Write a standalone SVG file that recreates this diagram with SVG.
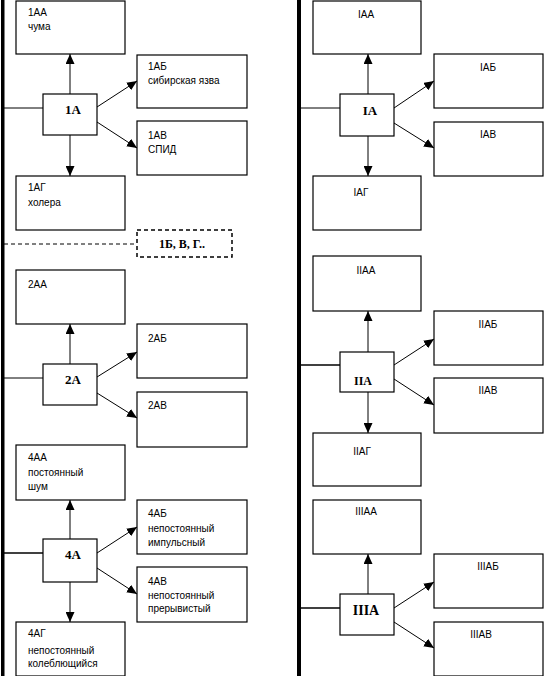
<svg xmlns="http://www.w3.org/2000/svg" width="544" height="676" viewBox="0 0 544 676">
<defs>
<marker id="ah" markerUnits="userSpaceOnUse" markerWidth="10" markerHeight="9" refX="10" refY="4.5" orient="auto">
<path d="M0,0 L10,4.5 L0,9 z" fill="#000"/>
</marker>
<style>
.box{fill:#fff;stroke:#000;stroke-width:1.2}
.t{font-family:"Liberation Sans",Arial,sans-serif;font-size:10px;fill:#000}
.c{text-anchor:middle}
.n{font-family:"Liberation Serif","Times New Roman",serif;font-weight:bold;font-size:13px;text-anchor:middle;fill:#000}
.ln{stroke:#000;stroke-width:1;fill:none}
.ar{stroke:#000;stroke-width:1;fill:none;marker-end:url(#ah)}
.hl{stroke:#000;stroke-width:1.5;fill:none}
</style>
</defs>
<rect width="544" height="676" fill="#fff"/>
<g id="bars">
<rect x="1" y="0" width="3.5" height="676" fill="#000"/>
<rect x="297" y="0" width="4" height="676" fill="#000"/>
</g>
<g id="connectors">
<line class="ln" x1="4" y1="108" x2="43" y2="108"/>
<line class="ar" x1="70" y1="94" x2="70" y2="54"/>
<line class="ar" x1="97" y1="107" x2="137" y2="81"/>
<line class="ar" x1="97" y1="122" x2="137" y2="148"/>
<line class="ar" x1="70" y1="135" x2="70" y2="176"/>
<line class="ln" x1="4" y1="244" x2="137" y2="244" stroke-dasharray="4,3"/>
<line class="ln" x1="4" y1="378" x2="43" y2="378"/>
<line class="ar" x1="70" y1="364" x2="70" y2="324"/>
<line class="ar" x1="97" y1="377" x2="137" y2="352"/>
<line class="ar" x1="97" y1="393" x2="137" y2="418"/>
<line class="hl" x1="4" y1="553" x2="43" y2="553"/>
<line class="ar" x1="70" y1="539" x2="70" y2="500"/>
<line class="ar" x1="97" y1="553" x2="137" y2="527"/>
<line class="ar" x1="97" y1="568" x2="137" y2="594"/>
<line class="ar" x1="70" y1="582" x2="70" y2="622"/>
<line class="ln" x1="301" y1="108" x2="340" y2="108"/>
<line class="ar" x1="368" y1="94" x2="368" y2="54"/>
<line class="ar" x1="394" y1="108" x2="434" y2="81"/>
<line class="ar" x1="394" y1="123" x2="434" y2="148"/>
<line class="ar" x1="368" y1="136" x2="368" y2="176"/>
<line class="hl" x1="301" y1="365" x2="340" y2="365"/>
<line class="ar" x1="368" y1="352" x2="368" y2="311"/>
<line class="ar" x1="394" y1="365" x2="434" y2="339"/>
<line class="ar" x1="394" y1="379" x2="434" y2="405"/>
<line class="ar" x1="368" y1="392" x2="368" y2="433"/>
<line class="hl" x1="301" y1="608" x2="340" y2="608"/>
<line class="ar" x1="368" y1="594" x2="368" y2="554"/>
<line class="ar" x1="394" y1="608" x2="434" y2="582"/>
<line class="ar" x1="394" y1="622" x2="434" y2="648"/>
</g>
<g id="n1AA"><rect class="box" x="16" y="1" width="109" height="53"/><text class="t" x="28" y="16">1АА</text><text class="t" x="28" y="30">чума</text></g>
<g id="n1AB"><rect class="box" x="137" y="55" width="110" height="53"/><text class="t" x="148" y="70">1АБ</text><text class="t" x="148" y="84">сибирская язва</text></g>
<g id="n1A"><rect class="box" x="43" y="94" width="54" height="41"/><text class="n" x="73" y="114">1А</text></g>
<g id="n1AV"><rect class="box" x="137" y="121" width="110" height="54"/><text class="t" x="148" y="139">1АВ</text><text class="t" x="148" y="153">СПИД</text></g>
<g id="n1AG"><rect class="box" x="16" y="176" width="109" height="54"/><text class="t" x="28" y="191">1АГ</text><text class="t" x="28" y="206">холера</text></g>
<g id="n1BVG"><rect x="137" y="230" width="95" height="27" fill="#fff" stroke="#000" stroke-width="1.5" stroke-dasharray="4,3"/><text class="n" x="182" y="248" style="font-size:12px">1Б, В, Г..</text></g>
<g id="n2AA"><rect class="box" x="16" y="270" width="109" height="54"/><text class="t" x="28" y="288">2АА</text></g>
<g id="n2AB"><rect class="box" x="137" y="324" width="110" height="54"/><text class="t" x="148" y="342">2АБ</text></g>
<g id="n2A"><rect class="box" x="43" y="364" width="54" height="41"/><text class="n" x="73" y="384">2А</text></g>
<g id="n2AV"><rect class="box" x="137" y="392" width="110" height="55"/><text class="t" x="148" y="409">2АВ</text></g>
<g id="n4AA"><rect class="box" x="16" y="445" width="109" height="55"/><text class="t" x="28" y="461">4АА</text><text class="t" x="28" y="476">постоянный</text><text class="t" x="28" y="490">шум</text></g>
<g id="n4AB"><rect class="box" x="137" y="500" width="110" height="54"/><text class="t" x="148" y="517">4АБ</text><text class="t" x="148" y="532">непостоянный</text><text class="t" x="148" y="546">импульсный</text></g>
<g id="n4A"><rect class="box" x="43" y="539" width="54" height="43"/><text class="n" x="73" y="559">4А</text></g>
<g id="n4AV"><rect class="box" x="137" y="567" width="110" height="55"/><text class="t" x="148" y="585">4АВ</text><text class="t" x="148" y="599">непостоянный</text><text class="t" x="148" y="612">прерывистый</text></g>
<g id="n4AG"><rect class="box" x="16" y="622" width="109" height="54"/><text class="t" x="28" y="637">4АГ</text><text class="t" x="28" y="654">непостоянный</text><text class="t" x="28" y="667">колеблющийся</text></g>
<g id="nIAA"><rect class="box" x="313" y="1" width="108" height="53"/><text class="t c" x="366" y="18">IАА</text></g>
<g id="nIAB"><rect class="box" x="434" y="54" width="109" height="54"/><text class="t c" x="488" y="71">IАБ</text></g>
<g id="nIA"><rect class="box" x="340" y="94" width="54" height="42"/><text class="n" x="370" y="115">IА</text></g>
<g id="nIAV"><rect class="box" x="434" y="122" width="109" height="54"/><text class="t c" x="488" y="138">IАВ</text></g>
<g id="nIAG"><rect class="box" x="313" y="176" width="108" height="54"/><text class="t c" x="361" y="196">IАГ</text></g>
<g id="nIIAA"><rect class="box" x="313" y="256" width="108" height="55"/><text class="t c" x="366" y="274">IIАА</text></g>
<g id="nIIAB"><rect class="box" x="434" y="311" width="109" height="54"/><text class="t c" x="488" y="328">IIАБ</text></g>
<g id="nIIA"><rect class="box" x="340" y="352" width="54" height="40"/><text class="n" x="363" y="385" style="font-size:12px">IIА</text></g>
<g id="nIIAV"><rect class="box" x="434" y="378" width="109" height="55"/><text class="t c" x="488" y="394">IIАВ</text></g>
<g id="nIIAG"><rect class="box" x="313" y="433" width="108" height="53"/><text class="t c" x="362" y="455">IIАГ</text></g>
<g id="nIIIAA"><rect class="box" x="313" y="500" width="108" height="54"/><text class="t c" x="366" y="515">IIIАА</text></g>
<g id="nIIIAB"><rect class="box" x="434" y="554" width="109" height="54"/><text class="t c" x="488" y="570">IIIАБ</text></g>
<g id="nIIIA"><rect class="box" x="340" y="594" width="54" height="41"/><text class="n" x="366" y="615" style="font-size:14px">IIIА</text></g>
<g id="nIIIAV"><rect class="box" x="434" y="622" width="109" height="54"/><text class="t c" x="481" y="638">IIIАВ</text></g>
</svg>
